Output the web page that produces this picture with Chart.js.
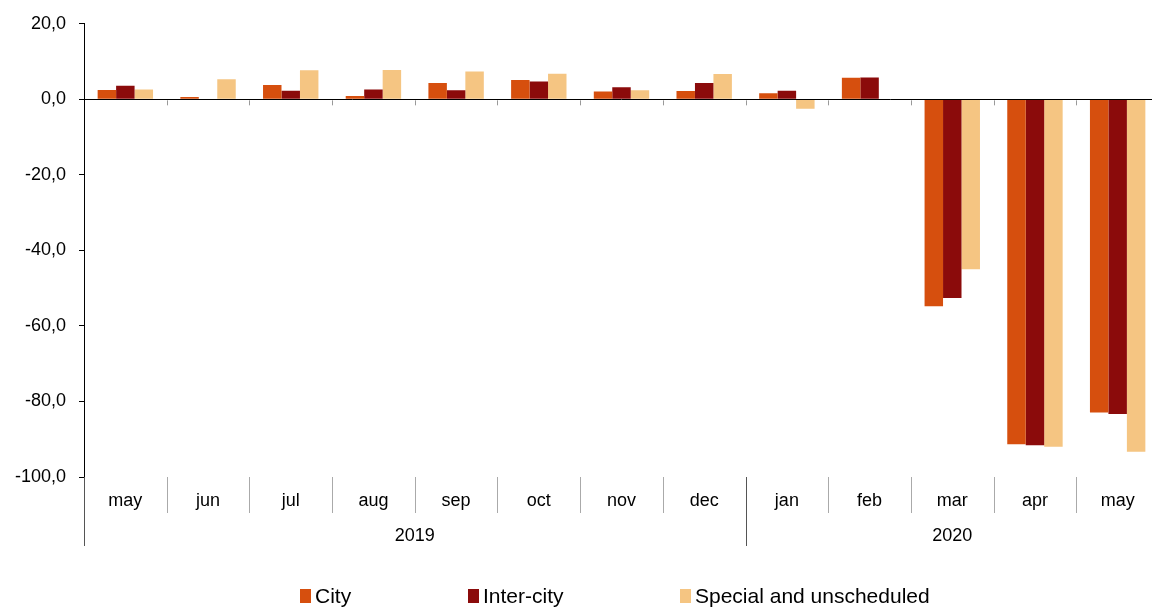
<!DOCTYPE html>
<html>
<head>
<meta charset="utf-8">
<script src="https://cdn.jsdelivr.net/npm/chart.js@4"></script>
<style>
  html, body { margin: 0; padding: 0; background: #fff; overflow: hidden; }
  #wrap { width: 1160px; height: 608px; }
</style>
</head>
<body>
<div id="wrap"><canvas id="chart"></canvas></div>
<script>
// ====== DATA ======
const months = ["may", "jun", "jul", "aug", "sep", "oct", "nov", "dec", "jan", "feb", "mar", "apr", "may"];
const years = ["2019", "2020"];
const yearSpans = [8, 5]; // number of months under each year

const seriesNames = ["City", "Inter-city", "Special and unscheduled"];
const city = [2.5, 0.6, 3.8, 0.9, 4.3, 5.1, 2.1, 2.2, 1.6, 5.7, -54.8, -91.3, -82.9];
const interCity = [3.6, -0.2, 2.3, 2.6, 2.4, 4.7, 3.2, 4.3, 2.3, 5.8, -52.6, -91.6, -83.3];
const special = [2.6, 5.3, 7.7, 7.8, 7.4, 6.8, 2.4, 6.7, -2.5, 0, -45.0, -92.0, -93.3];

const colors = ["#D64F0E", "#8B0B0B", "#F5C582"];
const FONT = "'Liberation Sans', Arial, sans-serif";

// ====== ОСИ, ГОДЫ, ЛЕГЕНДА ======
const extras = {
  id: "extras",
  afterDatasetsDraw(chart) {
    const { ctx, chartArea: a, scales } = chart;
    const xs = scales.x, ys = scales.y;
    const y0 = ys.getPixelForValue(0);
    const half = (xs.getPixelForValue(1) - xs.getPixelForValue(0)) / 2;
    ctx.save();

    // zero line + small ticks
    ctx.strokeStyle = "#000";
    ctx.lineWidth = 1;
    ctx.beginPath();
    ctx.moveTo(a.left, Math.round(y0) + 0.5);
    ctx.lineTo(a.right, Math.round(y0) + 0.5);
    ctx.stroke();

    ctx.strokeStyle = "#999";
    for (let i = 1; i < months.length; i++) {
      const x = Math.round(xs.getPixelForValue(i) - half) + 0.5;
      ctx.beginPath();
      ctx.moveTo(x, y0 + 1);
      ctx.lineTo(x, y0 + 6);
      ctx.stroke();
    }

    // month separators below the plot
    let boundaries = [];
    let acc = 0;
    yearSpans.forEach((s) => { acc += s; boundaries.push(acc); });
    for (let i = 1; i < months.length; i++) {
      const x = Math.round(xs.getPixelForValue(i) - half) + 0.5;
      const isYear = boundaries.includes(i);
      ctx.strokeStyle = isYear ? "#555" : "#aaa";
      ctx.beginPath();
      ctx.moveTo(x, a.bottom);
      ctx.lineTo(x, a.bottom + (isYear ? 69 : 36));
      ctx.stroke();
    }
    // left axis extension
    ctx.strokeStyle = "#555";
    ctx.beginPath();
    ctx.moveTo(Math.round(a.left) + 0.5, a.bottom);
    ctx.lineTo(Math.round(a.left) + 0.5, a.bottom + 69);
    ctx.stroke();

    // years
    ctx.fillStyle = "#000";
    ctx.font = "18px " + FONT;
    ctx.textAlign = "center";
    ctx.textBaseline = "middle";
    let start = 0;
    years.forEach((yr, k) => {
      const end = start + yearSpans[k];
      const x1 = xs.getPixelForValue(start) - half;
      const x2 = xs.getPixelForValue(end - 1) + half;
      ctx.fillText(yr, (x1 + x2) / 2, a.bottom + 59);
      start = end;
    });

    // legend
    const lx = [300, 468, 680];
    ctx.font = "21px " + FONT;
    ctx.textAlign = "left";
    seriesNames.forEach((name, k) => {
      ctx.fillStyle = colors[k];
      ctx.fillRect(lx[k], 589, 11, 14);
      ctx.fillStyle = "#000";
      ctx.fillText(name, lx[k] + 15, 597);
    });
    ctx.restore();
  },
};

const fmt = (v) => v.toFixed(1).replace(".", ",");

new Chart(document.getElementById("chart"), {
  type: "bar",
  data: {
    labels: months,
    datasets: [
      { label: seriesNames[0], data: city, backgroundColor: colors[0] },
      { label: seriesNames[1], data: interCity, backgroundColor: colors[1] },
      { label: seriesNames[2], data: special, backgroundColor: colors[2] },
    ].map((d) => ({ ...d, barPercentage: 1, categoryPercentage: 0.67, borderWidth: 0 })),
  },
  options: {
    responsive: true,
    maintainAspectRatio: false,
    animation: false,
    layout: { padding: { top: 21, right: 1, left: 0, bottom: 0 } },
    plugins: {
      legend: { display: false },
      tooltip: { enabled: false },
    },
    scales: {
      x: {
        grid: { display: false },
        border: { display: false },
        ticks: {
          autoSkip: false,
          maxRotation: 0,
          padding: 5,
          color: "#000",
          font: { family: FONT, size: 18 },
        },
        afterFit: (s) => { s.height = 131; },
      },
      y: {
        min: -100,
        max: 20,
        ticks: {
          stepSize: 20,
          padding: 13,
          color: "#000",
          font: { family: FONT, size: 18 },
          callback: (v) => fmt(v),
        },
        grid: { drawOnChartArea: false, drawTicks: true, tickLength: 5, color: "#000" },
        border: { display: true, color: "#000" },
        afterFit: (s) => { s.width = 84; },
      },
    },
  },
  plugins: [extras],
});
</script>
</body>
</html>
